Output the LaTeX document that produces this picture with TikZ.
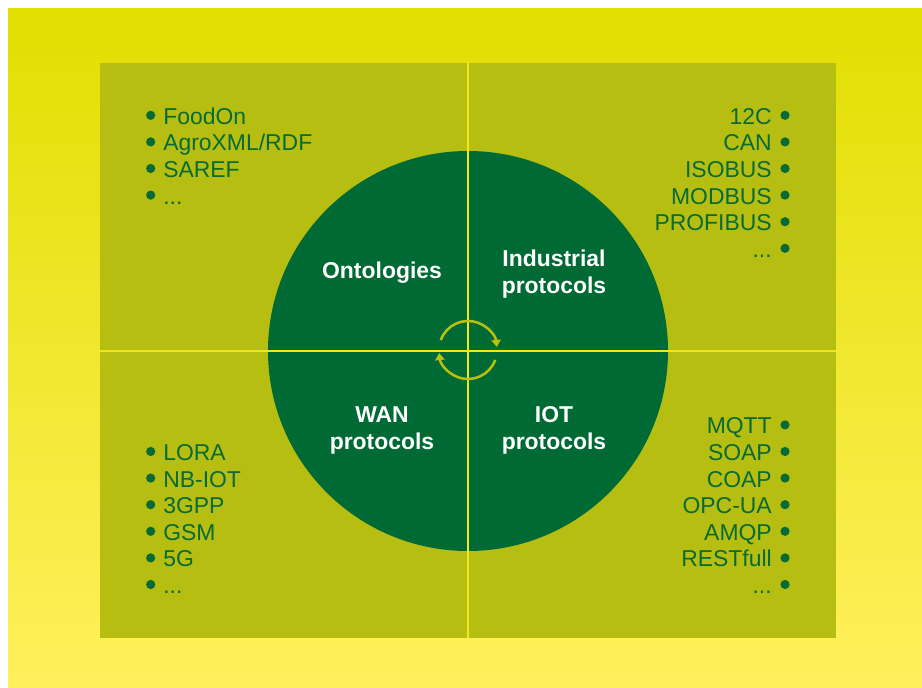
\documentclass[tikz,border=0pt]{standalone}
\usepackage{fontspec}
\setmainfont{Liberation Sans}
\usetikzlibrary{arrows.meta}
\newcommand\moreitems{...}

\begin{document}
\begin{tikzpicture}[x=0.025cm, y=-0.025cm,
        item/.style={text=leaf, font=\fontsize{16.3}{18.9}\selectfont, inner sep=0pt},
        quarter/.style={text=white, font=\fontsize{16.3}{18.9}\selectfont\bfseries, align=center, inner sep=0pt},
        dot/.style={fill=leaf},
        divider/.style={draw=rule, line width=1.8pt},
        turn/.style={draw=turnline, line width=1.8pt, -{Triangle[length=5pt, width=6.6pt]}}]
        % Define colors
        \definecolor{sunTop}{RGB}{225, 222, 0}
        \definecolor{sunBottom}{RGB}{255, 240, 92}
        \definecolor{panel}{RGB}{182, 190, 18}
        \definecolor{forest}{RGB}{0, 106, 53}
        \definecolor{leaf}{RGB}{8, 106, 52}
        \definecolor{rule}{RGB}{240, 232, 28}
        \definecolor{turnline}{RGB}{186, 192, 16}

        \useasboundingbox (0,0) rectangle (922,688);

        % --- Background and panel ---
        \shade[top color=sunTop, bottom color=sunBottom] (8,9) rectangle (922,688);
        \fill[panel] (100,63) rectangle (836,638);

        % --- Central disc ---
        \fill[forest] (468,351) circle (200);

        % Cross
        \draw[divider] (468,63) -- (468,638);
        \draw[divider] (100,351) -- (836,351);

        % Cycle arrows
        \draw[turn] (468,350) ++(-160:29) arc[start angle=-160, end angle=-6, radius=29];
        \draw[turn] (468,350) ++(20:29) arc[start angle=20, end angle=174, radius=29];

        % --- Quarter labels ---
        \node[quarter] (ontologies) at (382,273) {Ontologies};
        \node[quarter] (industrial) at (554,274) {Industrial\\protocols};
        \node[quarter] (wan) at (382,430.5) {WAN\\protocols};
        \node[quarter] (iot) at (554,430.5) {IOT\\protocols};

        % --- TOP LEFT (ontologies) ---
        \foreach \name [count=\i] in {FoodOn, AgroXML/RDF, SAREF, \moreitems} {
            \node[item, anchor=base west] (ont-\i) at (163, {124.3 + 26.6*(\i-1)}) {\name};
            \fill[dot] ([shift={(-12.3,-9)}]ont-\i.base west) circle (4.6);
        }

        % --- TOP RIGHT (industrial protocols) ---
        \foreach \name [count=\i] in {12C, CAN, ISOBUS, MODBUS, PROFIBUS, \moreitems} {
            \node[item, anchor=base east] (ind-\i) at (772, {124.3 + 26.6*(\i-1)}) {\name};
            \fill[dot] ([shift={(13,-9)}]ind-\i.base east) circle (4.6);
        }

        % --- BOTTOM LEFT (WAN protocols) ---
        \foreach \name [count=\i] in {LORA, NB-IOT, 3GPP, GSM, 5G, \moreitems} {
            \node[item, anchor=base west] (wan-\i) at (163, {460.5 + 26.6*(\i-1)}) {\name};
            \fill[dot] ([shift={(-12.3,-9)}]wan-\i.base west) circle (4.6);
        }

        % --- BOTTOM RIGHT (IOT protocols) ---
        \foreach \name [count=\i] in {MQTT, SOAP, COAP, OPC-UA, AMQP, RESTfull, \moreitems} {
            \node[item, anchor=base east] (iot-\i) at (772, {433.9 + 26.6*(\i-1)}) {\name};
            \fill[dot] ([shift={(13,-9)}]iot-\i.base east) circle (4.6);
        }
    \end{tikzpicture}
\end{document}
